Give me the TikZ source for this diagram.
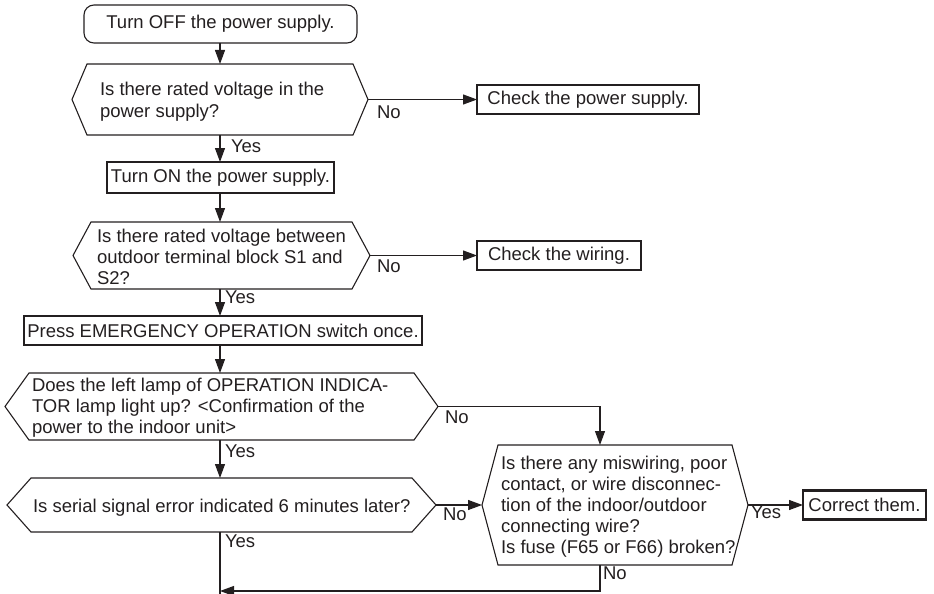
\documentclass[tikz,border=0pt]{standalone}
\usepackage{fontspec}
\setmainfont{Liberation Sans}
\usetikzlibrary{arrows.meta,calc}
\definecolor{ink}{HTML}{231F20}
\tikzset{
  ln/.style={draw=ink, line width=1.1pt},
  arr/.style={ln, -{Triangle[length=14pt,width=10pt]}},
  box/.style={draw=ink, line width=1.1pt, inner sep=0pt, outer sep=0pt, align=center, text=ink},
  tbox/.style={box, line width=2.6pt},
  hexa/.style={inner sep=0pt, outer sep=0pt, draw=none},
  txt/.style={inner sep=0pt, outer sep=0pt, align=left, text=ink, anchor=base west},
  lbl/.style={inner sep=0pt, outer sep=0pt, anchor=base west, text=ink},
}
\newcommand\hexpath[2]{\draw[ln] (#1.west) -- ([xshift=#2]#1.north west) -- ([xshift=-#2]#1.north east) -- (#1.east) -- ([xshift=-#2]#1.south east) -- ([xshift=#2]#1.south west) -- cycle;}
\begin{document}
\begin{tikzpicture}[x=1pt,y=-1pt,font=\fontsize{18.5}{21}\selectfont]
\useasboundingbox (0,0) rectangle (934,594);
\coordinate (col) at (220,0);
\coordinate (jx) at (600,0);
% main column
\node[box, rounded corners=10pt, minimum width=273pt, minimum height=38pt] (b1) at (220.5,24) {Turn OFF the power supply.};
\node[hexa, minimum width=296pt, minimum height=71pt] (d2) at (220,99.5) {};
\hexpath{d2}{15pt}
\node[txt] (d2t) at (100,117) {Is there rated voltage in the\\power supply?};
\node[tbox, minimum width=222pt, minimum height=29pt] (cps) at (588,99.5) {Check the power supply.};
\node[box, minimum width=227pt, minimum height=31pt] (b3) at (220.5,177.5) {Turn ON the power supply.};
\node[hexa, minimum width=297pt, minimum height=67pt] (d4) at (221.5,255.5) {};
\hexpath{d4}{18pt}
\node[txt] (d4t) at (97,284) {Is there rated voltage between\\outdoor terminal block S1 and\\S2?};
\node[tbox, minimum width=164pt, minimum height=29pt] (cw) at (559,255.5) {Check the wiring.};
\node[box, minimum width=398pt, minimum height=29pt] (b5) at (223,330.5) {Press EMERGENCY OPERATION switch once.};
\node[hexa, minimum width=433pt, minimum height=67pt] (d6) at (221.5,406.5) {};
\hexpath{d6}{24pt}
\node[txt] (d6t) at (32,433) {Does the left lamp of OPERATION INDICA-\\TOR lamp light up? <Confirmation of the\\power to the indoor unit>};
\node[hexa, minimum width=429pt, minimum height=54pt] (d8) at (221.5,505) {};
\hexpath{d8}{24pt}
\node[txt] (d8t) at (33,512) {Is serial signal error indicated 6 minutes later?};
\node[hexa, minimum width=266pt, minimum height=120pt] (d7) at (615,505) {};
\hexpath{d7}{16pt}
\node[txt] (d7t) at (501,553) {Is there any miswiring, poor\\contact, or wire disconnec-\\tion of the indoor/outdoor\\connecting wire?\\Is fuse (F65 or F66) broken?};
\node[tbox, minimum width=123pt, minimum height=29pt] (ct) at (864.5,505) {Correct them.};
% labels
\node[lbl] (l1) at (377,118) {No};
\node[lbl] (l2) at (231,152) {Yes};
\node[lbl] (l3) at (377,272) {No};
\node[lbl] (l4) at (225,303) {Yes};
\node[lbl] (l5) at (445,423) {No};
\node[lbl] (l6) at (225,457) {Yes};
\node[lbl] (l7) at (443,520) {No};
\node[lbl] (l8) at (225,547) {Yes};
\node[lbl] (l9) at (751,518) {Yes};
\node[lbl] (l10) at (603,579) {No};
% connectors
\draw[arr] (b1.south -| col) -- (d2.north -| col);
\draw[arr] (d2.east) -- (cps.west);
\draw[arr] (d2.south -| col) -- (b3.north -| col);
\draw[arr] (b3.south -| col) -- (d4.north -| col);
\draw[arr] (d4.east) -- (cw.west);
\draw[arr] (d4.south -| col) -- (b5.north -| col);
\draw[arr] (b5.south -| col) -- (d6.north -| col);
\draw[arr] (d6.south -| col) -- (d8.north -| col);
\draw[arr] (d6.east) -- (d6.east -| jx) -- (d7.north -| jx);
\draw[arr] (d8.east) -- (d7.west);
\draw[arr] (d7.east) -- (ct.west);
\coordinate (bot) at (220,594);
\coordinate (ret) at (600,591);
\draw[ln] (d8.south -| col) -- (bot);
\draw[arr] (d7.south -| jx) -- (ret) -- (ret -| col);
\end{tikzpicture}
\end{document}
